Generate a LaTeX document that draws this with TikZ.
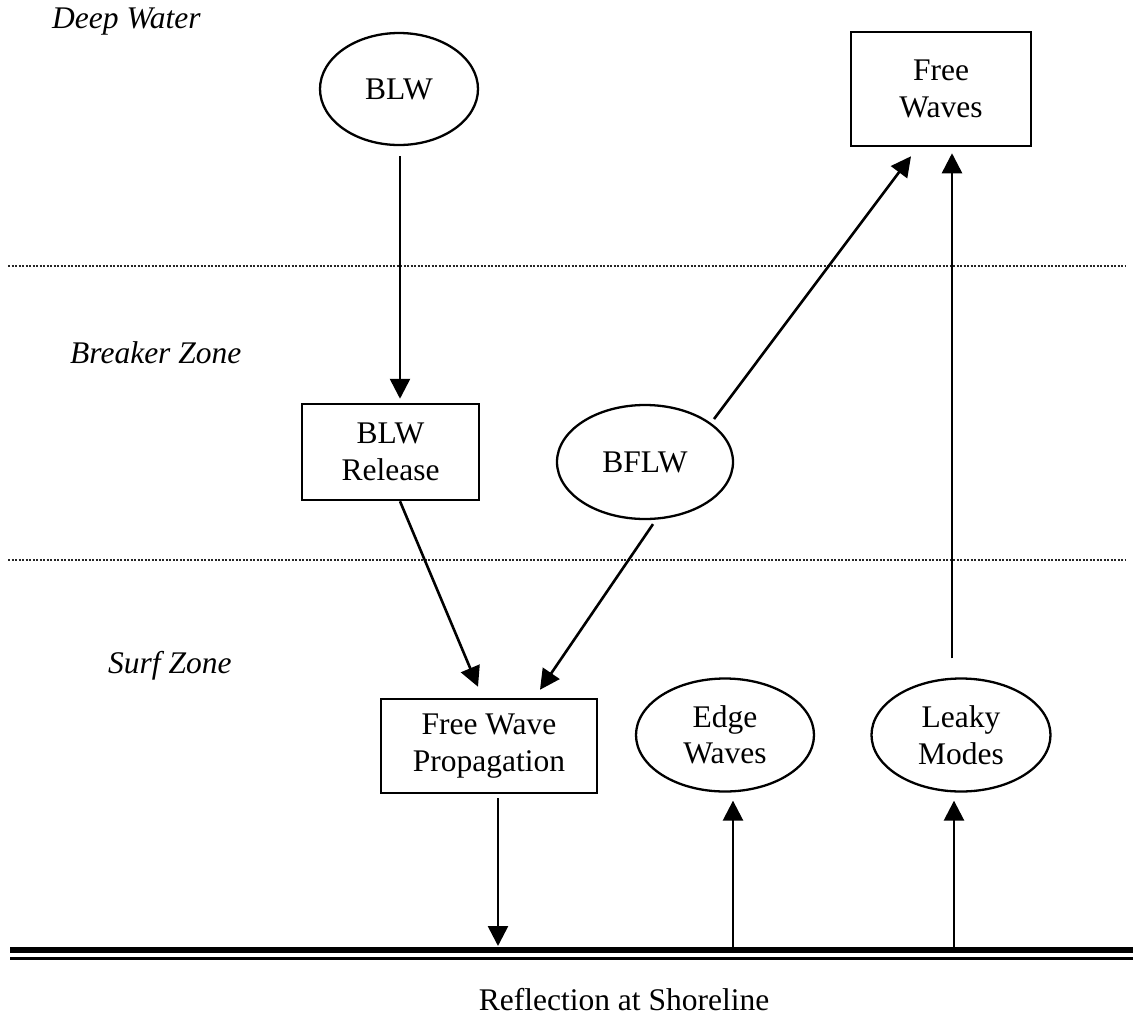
\documentclass[tikz,border=0pt]{standalone}
\usepackage{fontspec}
\setmainfont{Liberation Serif}
\usetikzlibrary{arrows.meta,calc,shapes.geometric}
\begin{document}
\begin{tikzpicture}[x=1pt,y=-1pt,
  every node/.style={font=\fontsize{31.5}{36.5}\selectfont},
  box/.style={draw, line width=2.5pt, rectangle, inner sep=0pt, align=center},
  oval/.style={draw, line width=2.3pt, ellipse, inner sep=0pt, align=center},
  arr/.style={line width=2.6pt, -{Triangle[length=20pt,width=20pt]}},
  zone/.style={font=\fontsize{31.5}{36.5}\selectfont\itshape, anchor=base west, inner sep=0pt},
  sep/.style={line width=2pt, dash pattern=on 2pt off 1.5pt, black!85},
  shoreA/.style={line width=6.5pt},
  shoreB/.style={line width=2.8pt}]
\useasboundingbox (0,0) rectangle (1133,1021);

% zone labels
\node[zone] (deep) at (52,28) {Deep Water};
\node[zone] (breaker) at (70,363) {Breaker Zone};
\node[zone] (surf) at (108,673) {Surf Zone};

% separators
\draw[sep] (8,266) -- (1125,266);
\draw[sep] (8,560) -- (1125,560);

% nodes
\node[oval, minimum width=158pt, minimum height=112pt] (blw) at (399,89) {BLW};
\node[box, minimum width=180pt, minimum height=114pt] (fw) at (941,89) {Free\\Waves};
\node[box, minimum width=177pt, minimum height=96pt] (rel) at (390.5,452) {BLW\\Release};
\node[oval, minimum width=176pt, minimum height=114pt] (bflw) at (645,462) {BFLW};
\node[box, minimum width=216pt, minimum height=94pt] (fwp) at (489,746) {Free Wave\\Propagation};
\node[oval, minimum width=178pt, minimum height=113pt] (edge) at (725,735) {Edge\\Waves};
\node[oval, minimum width=179pt, minimum height=113pt] (leaky) at (961,735) {Leaky\\Modes};

% shoreline
\coordinate (shore) at (10,950);
\coordinate (shoreR) at (1133,950);
\draw[shoreA] (shore) -- (shoreR);
\draw[shoreB] ($(shore)+(0,8.5)$) -- ($(shoreR)+(0,8.5)$);
\node[anchor=base] (refl) at (624,1010) {Reflection at Shoreline};

% connectors
\draw[arr] ($(blw.south)+(1,10)$) -- ($(rel.north)+(9.5,-4)$);
\draw[arr] ($(rel.south)+(9.5,0)$) -- ($(fwp.north)+(-11,-11)$);
\draw[arr] ($(bflw.south)+(8,4)$) -- ($(fwp.north)+(51,-8)$);
\draw[arr] ($(bflw.center)+(69,-43)$) -- ($(fw.south)+(-30,9)$);
\draw[arr] ($(leaky.north)+(-9,-19)$) -- ($(fw.south)+(11,6)$);
\draw[arr] ($(fwp.south)+(9,4)$) -- ($(fwp.south |- shore)+(9,-4)$);
\draw[arr] ($(edge.south |- shore)+(8,0)$) -- ($(edge.south)+(8,8)$);
\draw[arr] ($(leaky.south |- shore)+(-7,0)$) -- ($(leaky.south)+(-7,8)$);
\end{tikzpicture}
\end{document}
